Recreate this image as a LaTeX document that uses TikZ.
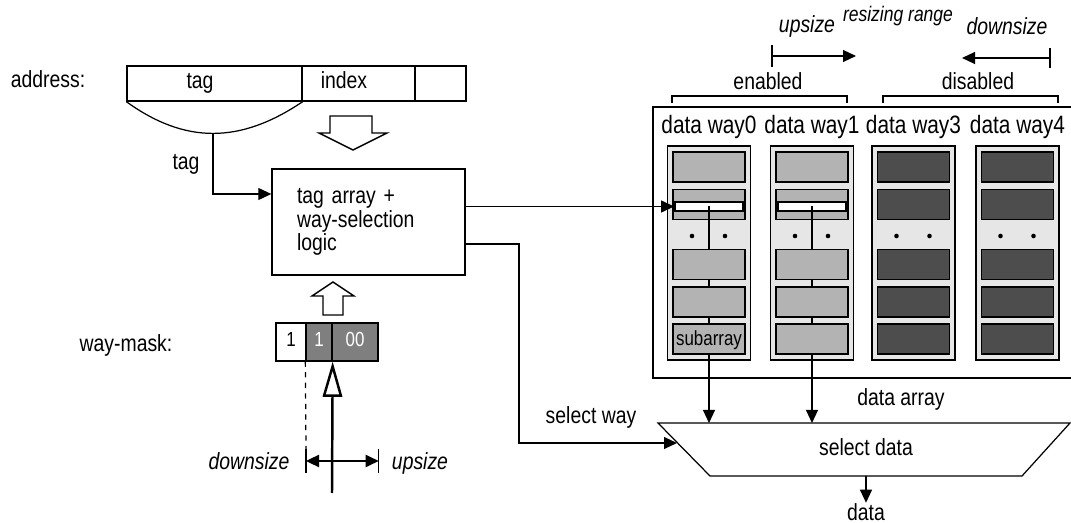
\documentclass[tikz,border=0pt]{standalone}
\usepackage{fontspec}
\setmainfont{Liberation Sans}[FakeStretch=0.83]
\usetikzlibrary{calc,arrows.meta}
\definecolor{ink}{HTML}{000000}
\definecolor{colbg}{HTML}{E6E6E6}
\definecolor{onway}{HTML}{B3B3B3}
\definecolor{offway}{HTML}{4D4D4D}
\definecolor{maskon}{HTML}{7F7F7F}
\newcommand{\pxu}{0.02cm}
\newcommand{\lblfont}{\fontsize{13.3pt}{11.3pt}\selectfont}
\newcommand{\wayfont}{\fontsize{14.3pt}{16pt}\selectfont}
\newcommand{\smallfont}{\fontsize{11.6pt}{13pt}\selectfont}
\tikzset{
  wire/.style={draw=ink, line width=0.7pt},
  arr/.style={wire, -{Triangle[length=7.4pt,width=6.8pt]}},
  dim/.style={wire, {Triangle[length=7.4pt,width=7pt]}-{Triangle[length=7.4pt,width=7pt]}},
  fat/.style={draw=ink, line width=1.4pt, -{Triangle[open,length=20pt,width=11pt]}},
  box/.style={draw=ink, line width=0.75pt, inner sep=0pt},
  colbox/.style={draw=ink, line width=0.8pt, fill=colbg, minimum width=83*\pxu, minimum height=214*\pxu, inner sep=0pt},
  sub/.style={draw=ink, line width=1pt, minimum width=72*\pxu, minimum height=30*\pxu, inner sep=0pt},
  bit/.style={box, minimum height=38*\pxu, text height=5pt, text depth=0pt, font=\smallfont},
  hollow/.style={draw=ink, line width=0.8pt, fill=white, line join=miter},
  lab/.style={font=\lblfont, inner sep=0pt, anchor=base},
  labi/.style={font=\lblfont\itshape, inner sep=0pt, anchor=base},
  way/.style={font=\wayfont, inner sep=0pt, anchor=base},
  dotm/.style={circle, fill=ink, inner sep=0pt, minimum size=2.6pt},
}

\begin{document}
\begin{tikzpicture}[x=0.02cm,y=-0.02cm]
  \useasboundingbox (0,0) rectangle (1071,523);
  % address word
  \node[lab] (addrl) at (48,88) {address:};
  \node[box, minimum width=175*\pxu, minimum height=35*\pxu] (atag) at (214.5,83.5) {};
  \node[box, minimum width=113*\pxu, minimum height=35*\pxu] (aidx) at (358.5,83.5) {};
  \node[box, minimum width=51*\pxu, minimum height=35*\pxu] (aoff) at (440.5,83.5) {};
  \node[lab] (atagl) at (200,89) {tag};
  \node[lab] (aidxl) at (344,89) {index};
  \draw[wire] (atag.south west) .. controls (185,144) and (240,144) .. (atag.south east);
  \coordinate (tagtap) at (213,133);
  \node[lab] (tagl) at (186,170) {tag};
  \draw[hollow] (330,116) -- (372,116) -- (372,133) -- (387,133) -- (353,150) -- (319,133) -- (330,133) -- cycle;

  % tag array
  \node[box, minimum width=193*\pxu, minimum height=106*\pxu, text width=143*\pxu, align=left, font=\lblfont] (tagarr) at (368.5,222) {tag array +\\way-selection\\logic};
  \draw[arr] (tagtap) |- ($(tagarr.west)+(0,-28)$);

  % way-mask
  \node[lab] (maskl) at (126,352) {way-mask:};
  \node[bit, minimum width=30*\pxu] (m1) at (291,342) {1};
  \node[bit, minimum width=26*\pxu, fill=maskon, text=white] (m2) at (319,342) {1};
  \node[bit, minimum width=46*\pxu, fill=maskon, text=white] (m3) at (355,342) {00};
  \draw[hollow] (323,315) -- (343,315) -- (343,296) -- (354,296) -- (333,282) -- (312,296) -- (323,296) -- cycle;
  \coordinate (dimL) at (306,461);
  \coordinate (dimR) at (m3.south east |- dimL);
  \coordinate (mfoot) at (332,493);
  \draw[wire, dashed] (m2.south west) -- ($(dimL)+(0,-12)$);
  \draw[wire] ($(dimL)+(0,-12)$) -- ($(dimL)+(0,12)$) ($(dimR)+(0,-12)$) -- ($(dimR)+(0,12)$);
  \draw[dim] (dimL) -- (dimR);
  \draw[fat] (mfoot) -- (m2.south east);
  \node[labi] (mdown) at (249,469) {downsize};
  \node[labi] (mup) at (420,469) {upsize};

  % data array
  \draw[wire] (1071,107) -| (653,378) -- (1071,378);
  \node[lab] (arrl) at (901,405) {data array};
  \foreach \n/\x/\fc in {0/709/onway,1/812/onway,3/913.5/offway,4/1017.5/offway}{
    \node[colbox] (col\n) at (\x,253) {};
    \node[way] (wl\n) at (\x,134) {data way\n};
    \foreach \k/\y in {1/167,2/204.5,3/264.5,4/302,5/339}
      \node[sub, fill=\fc] (s\n\k) at (\x,\y) {};
    \node[dotm] (dl\n) at (\x-17,236) {};
    \node[dotm] (dr\n) at (\x+16,236) {};
  }
  \foreach \n in {0,1}{
    \node[box, line width=1pt, fill=white, minimum width=68*\pxu, minimum height=9*\pxu] (bar\n) at ($(s\n2)+(0,2)$) {};
    \draw[wire] (bar\n.center) -- (s\n3.north) (s\n3.south) -- (s\n4.north) (s\n4.south) -- (s\n5.north);
  }
  \node[font=\smallfont, inner sep=0pt] (subl) at ($(s05)+(0,1)$) {subarray};
  \draw[arr] (tagarr.east |- bar0.west) -- (bar0.west);

  % enabled / disabled
  \draw[wire] (672,103) |- (847,96) -- (847,103);
  \draw[wire] (883,103) |- (1058,96) -- (1058,103);
  \node[lab] (enl) at (768,90) {enabled};
  \node[lab] (disl) at (978,90) {disabled};
  \coordinate (upa) at (772,56);
  \coordinate (upb) at (856,56);
  \coordinate (dna) at (1050,58);
  \coordinate (dnb) at (962,58);
  \draw[wire] ($(upa)+(0,-11)$) -- ($(upa)+(0,11)$) ($(dna)+(0,-10)$) -- ($(dna)+(0,10)$);
  \draw[arr] (upa) -- (upb);
  \draw[arr] (dna) -- (dnb);
  \node[labi] (upl) at (807,33) {upsize};
  \node[labi, font=\fontsize{12pt}{14pt}\selectfont\itshape] (rrl) at (898,22) {resizing range};
  \node[labi] (dnl) at (1007,35) {downsize};

  % select data
  \coordinate (mtl) at (658,423);
  \coordinate (mtr) at (1070,423);
  \coordinate (mbr) at (1022,476);
  \coordinate (mbl) at (710,476);
  \draw[wire, line join=miter] (mtl) -- (mtr) -- (mbr) -- (mbl) -- cycle;
  \node[lab] (muxl) at (866,455) {select data};
  \draw[arr] (s05.south) -- (s05.south |- mtl);
  \draw[arr] (s15.south) -- (s15.south |- mtl);
  \coordinate (selin) at (677,443);
  \coordinate (selbend) at (519,443);
  \node[lab] (sell) at (591,423) {select way};
  \draw[arr] ($(tagarr.east)+(0,22)$) -| (selbend) -- (selin);
  \coordinate (mout) at (866,476);
  \node[lab] (outl) at (866,520) {data};
  \draw[arr] (mout) -- (outl.north);
\end{tikzpicture}
\end{document}
